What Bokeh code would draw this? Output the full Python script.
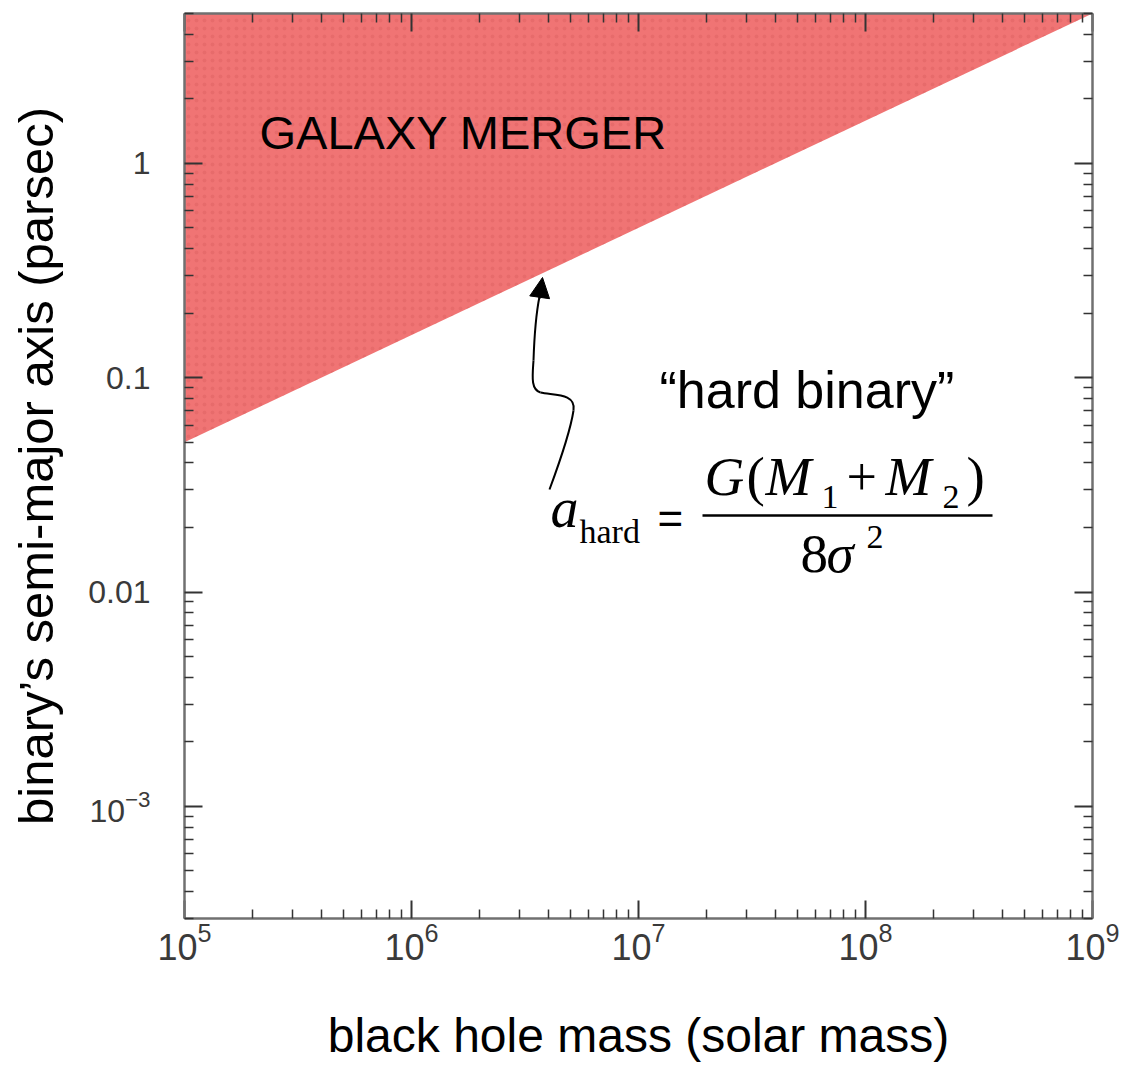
import math

from bokeh.embed import file_html
from bokeh.models import Arrow, FixedTicker, Label, LogAxis, NormalHead
from bokeh.plotting import figure
from bokeh.resources import INLINE

# Hard-binary separation as a function of total black hole mass
mass = [1e5, 1e9]            # solar masses
a_hard = [0.05, 5.0]         # parsec

x_decades = [1e5, 1e6, 1e7, 1e8, 1e9]
y_decades = [1e-3, 1e-2, 1e-1, 1.0]
y_plain_labels = {1.0: "1", 0.1: "0.1", 0.01: "0.01"}

X_RANGE = (1e5, 1e9)
Y_RANGE = (3e-4, 5.0)

SANS = "Liberation Sans"
SERIF = "Liberation Serif"

W, H = 1126, 1068
FL, FR, FT, FB = 184, 1092, 13, 918   # frame edges on the canvas


def minor_ticks(lo, hi):
    out = []
    d = math.floor(math.log10(lo))
    while 10 ** d <= hi:
        for k in range(2, 10):
            v = k * 10 ** d
            if lo <= v <= hi:
                out.append(v)
        d += 1
    return out


def at(px, py):
    """Canvas position -> data coordinates (log axes)."""
    lx0, lx1 = math.log10(X_RANGE[0]), math.log10(X_RANGE[1])
    ly0, ly1 = math.log10(Y_RANGE[0]), math.log10(Y_RANGE[1])
    lx = lx0 + (px - FL) / (FR - FL) * (lx1 - lx0)
    ly = ly1 - (py - FT) / (FB - FT) * (ly1 - ly0)
    return 10 ** lx, 10 ** ly


p = figure(
    width=W, height=H,
    x_axis_type="log", y_axis_type="log",
    x_range=X_RANGE, y_range=Y_RANGE,
    output_backend="svg", toolbar_location=None,
    min_border_left=FL, min_border_right=W - FR,
    min_border_top=FT, min_border_bottom=H - FB,
)
p.outline_line_color = None
p.grid.visible = False
p.background_fill_color = "white"
p.border_fill_color = "white"

x_ticker = FixedTicker(ticks=x_decades, minor_ticks=minor_ticks(*X_RANGE))
y_ticker = FixedTicker(ticks=y_decades, minor_ticks=minor_ticks(*Y_RANGE))


def style_axis(ax):
    ax.axis_line_color = "#707070"
    ax.axis_line_width = 2.5
    ax.major_tick_line_color = "#333333"
    ax.minor_tick_line_color = "#333333"
    ax.major_tick_line_width = 2
    ax.minor_tick_line_width = 1.5
    ax.major_tick_in = 18
    ax.major_tick_out = 0
    ax.minor_tick_in = 9
    ax.minor_tick_out = 0
    ax.major_label_text_font = SANS
    ax.major_label_text_color = "#3a3a3a"
    ax.axis_label_text_font = SANS
    ax.axis_label_text_font_style = "normal"
    ax.axis_label_text_color = "black"


xa = p.xaxis[0]
xa.ticker = x_ticker
style_axis(xa)
xa.major_label_text_font_size = "36px"
xa.major_label_standoff = 3
xa.axis_label = "black hole mass (solar mass)"
xa.axis_label_text_font_size = "48px"
xa.axis_label_standoff = 46

ya = p.yaxis[0]
ya.ticker = y_ticker
style_axis(ya)
ya.major_label_text_font_size = "32px"
ya.major_label_standoff = 34
ya.major_label_overrides = y_plain_labels
ya.axis_label = "binary\u2019s semi-major axis (parsec)"
ya.axis_label_text_font_size = "49px"
ya.axis_label_standoff = 22

# mirrored frame axes with ticks only
for ticker, side in ((x_ticker, "above"), (y_ticker, "right")):
    ax = LogAxis(ticker=ticker)
    style_axis(ax)
    ax.major_label_text_font_size = "1px"
    ax.major_label_text_alpha = 0
    ax.major_label_standoff = 0
    p.add_layout(ax, side)

# region above the hard-binary line
p.varea(
    x=mass, y1=a_hard, y2=[Y_RANGE[1]] * len(mass),
    fill_color="#F07474", fill_alpha=1.0,
    hatch_pattern="dot", hatch_color="#D65A5A", hatch_alpha=0.35,
    hatch_scale=8, hatch_weight=1,
)

# Label places its alphabetic baseline about a third of an em low here,
# so positions are given as baselines and lifted by that amount.
BASELINE_LIFT = 0.34


def add_text(txt, px, py, size, font=SANS, style="normal", align="left"):
    x, y = at(px, py - BASELINE_LIFT * size)
    p.add_layout(Label(
        x=x, y=y, text=txt,
        text_font=font, text_font_size=f"{size}px",
        text_font_style=style, text_color="black",
        text_align=align, text_baseline="alphabetic",
    ))


add_text("GALAXY MERGER", 259, 148, 47)
add_text("\u201chard binary\u201d", 659, 407, 52)

# a_hard = G(M1 + M2) / (8 sigma^2)
add_text("a", 550, 527, 56, SERIF, "italic")
add_text("hard", 579, 543, 34, SERIF)
add_text("=", 657, 533, 44, SANS)
add_text("G", 704, 495, 55, SERIF, "italic")
add_text("(", 746, 495, 55, SERIF)
add_text("M", 765, 495, 55, SERIF, "italic")
add_text("1", 821, 508, 34, SERIF)
add_text("+", 846, 495, 54, SERIF)
add_text("M", 885, 495, 55, SERIF, "italic")
add_text("2", 942, 508, 34, SERIF)
add_text(")", 966, 495, 55, SERIF)
add_text("8", 800, 572, 55, SERIF)
add_text("\u03c3", 826, 572, 55, SERIF, "italic")
add_text("2", 866, 548, 34, SERIF)

fx0, fy = at(702, 515)
fx1, _ = at(992, 515)
p.segment(x0=[fx0], y0=[fy], x1=[fx1], y1=[fy], line_color="black", line_width=2.5)

# curved pointer to the line
segs = [
    ((549, 489), (559, 462), (570, 430), (573, 410)),
    ((573, 410), (576, 392), (552, 395), (540, 392)),
    ((540, 392), (530, 389), (532, 375), (533, 360)),
    ((533, 360), (534, 330), (537, 306), (539, 296)),
]
bz = {k: [] for k in ("x0", "y0", "cx0", "cy0", "cx1", "cy1", "x1", "y1")}
for s0, c0, c1, s1 in segs:
    for (kx, ky), pt in zip((("x0", "y0"), ("cx0", "cy0"), ("cx1", "cy1"), ("x1", "y1")), (s0, c0, c1, s1)):
        dx, dy = at(*pt)
        bz[kx].append(dx)
        bz[ky].append(dy)
p.bezier(**bz, line_color="black", line_width=2)

ax0, ay0 = at(539, 298)
ax1, ay1 = at(542, 277)
p.add_layout(Arrow(
    x_start=ax0, y_start=ay0, x_end=ax1, y_end=ay1,
    line_color="black", line_width=2,
    end=NormalHead(size=20, fill_color="black", line_color="black"),
))

open("out.html", "w").write(file_html(p, INLINE))
